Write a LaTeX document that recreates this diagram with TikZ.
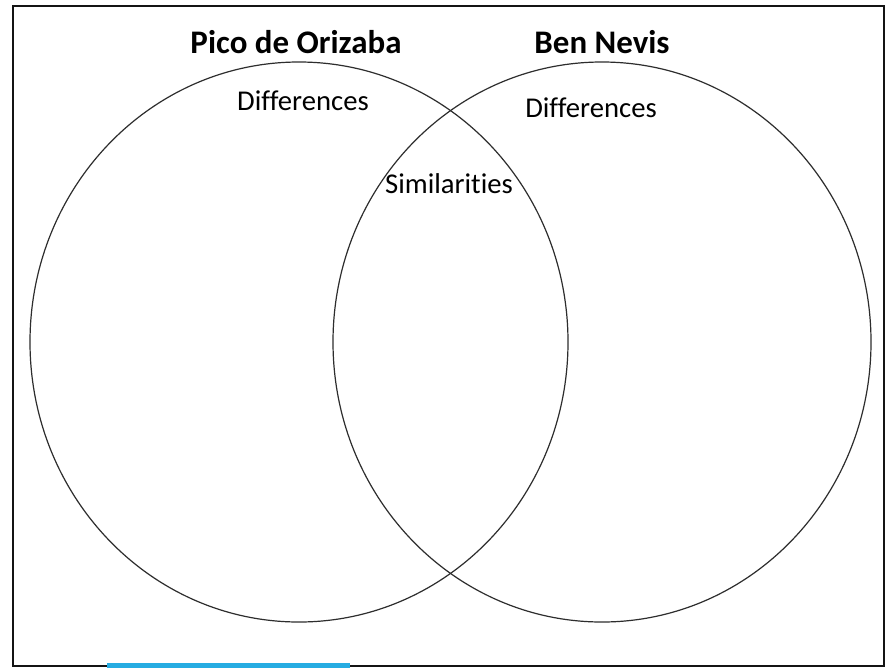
\documentclass[tikz,border=0pt]{standalone}
\usepackage{fontspec}
\setmainfont{Carlito}[Ligatures=NoCommon]
\definecolor{framegray}{RGB}{20,20,20}
\definecolor{circgray}{RGB}{45,45,45}
\definecolor{barblue}{RGB}{38,172,226}
\begin{document}
\begin{tikzpicture}[x=0.75pt,y=-0.75pt,
  title/.style={anchor=base,inner sep=0pt,font=\fontsize{24.7}{28}\selectfont\bfseries},
  lbl/.style={anchor=base,inner sep=0pt,font=\fontsize{21.5}{25}\selectfont},
  venn/.style={draw=circgray,line width=0.9pt}]
\useasboundingbox (0,0) rectangle (891,668);
\fill[white] (0,0) rectangle (891,668);
\draw[framegray,line width=1.7pt] (13,6) rectangle (884,666);
\draw[venn] (299,342) ellipse [x radius=269, y radius=280];
\draw[venn] (602,342) ellipse [x radius=269, y radius=280];
\node[title] (tA) at (296,53) {Pico de Orizaba};
\node[title] (tB) at (602,53) {Ben Nevis};
\node[lbl] (dA) at (303,110) {Differences};
\node[lbl] (dB) at (591,117) {Differences};
\node[lbl] (sim) at (449,193) {Similarities};
\fill[barblue] (107,663) rectangle (350,668);
\end{tikzpicture}
\end{document}
